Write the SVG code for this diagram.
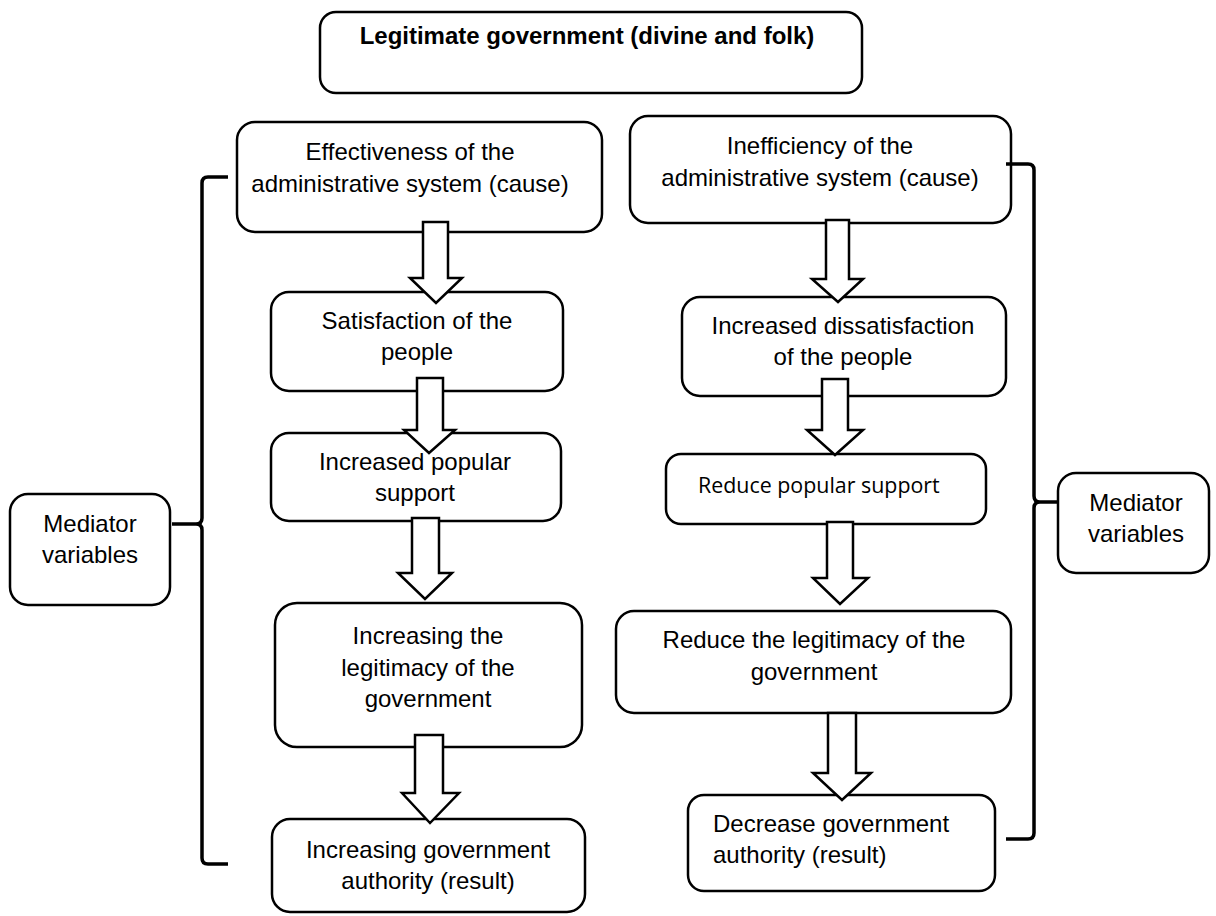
<svg xmlns="http://www.w3.org/2000/svg" width="1216" height="916" viewBox="0 0 1216 916">
<style>
.box{fill:#fff;stroke:#000;stroke-width:2.5}
.t{font-family:"Liberation Sans",Arial,sans-serif;font-size:24px;fill:#000;text-anchor:middle}
.ts{font-family:"Liberation Sans",Arial,sans-serif;font-size:24px;fill:#000;text-anchor:start}
.tb{font-family:"Liberation Sans",Arial,sans-serif;font-size:24px;font-weight:bold;fill:#000;text-anchor:middle}
.tc{font-family:"Open Sans","Noto Sans",sans-serif;font-size:21.4px;fill:#000}
.arr{fill:#fff;stroke:#000;stroke-width:2.5;stroke-linejoin:miter}
.brace{fill:none;stroke:#000;stroke-width:3.5}
</style>
<rect width="1216" height="916" fill="#fff"/>
<g id="top">
<rect class="box" x="320" y="12" width="542" height="81" rx="16"/>
<text class="tb" x="587" y="44">Legitimate government (divine and folk)</text>
</g>
<g id="l1">
<rect class="box" x="237" y="122" width="365" height="110" rx="18"/>
<text class="t" x="410" y="160">Effectiveness of the</text>
<text class="t" x="410" y="192">administrative system (cause)</text>
</g>
<g id="l2">
<rect class="box" x="271" y="292" width="292" height="99" rx="18"/>
<text class="t" x="417" y="329">Satisfaction of the</text>
<text class="t" x="417" y="360">people</text>
</g>
<g id="l3">
<rect class="box" x="271" y="433" width="290" height="88" rx="18"/>
<text class="t" x="415" y="470">Increased popular</text>
<text class="t" x="415" y="501">support</text>
</g>
<g id="l4">
<rect class="box" x="275" y="603" width="307" height="144" rx="22"/>
<text class="t" x="428" y="644">Increasing the</text>
<text class="t" x="428" y="676">legitimacy of the</text>
<text class="t" x="428" y="707">government</text>
</g>
<g id="l5">
<rect class="box" x="272" y="819" width="313" height="93" rx="18"/>
<text class="t" x="428" y="858">Increasing government</text>
<text class="t" x="428" y="889">authority (result)</text>
</g>
<g id="r1">
<rect class="box" x="630" y="116" width="381" height="107" rx="18"/>
<text class="t" x="820" y="154">Inefficiency of the</text>
<text class="t" x="820" y="186">administrative system (cause)</text>
</g>
<g id="r2">
<rect class="box" x="682" y="297" width="324" height="99" rx="18"/>
<text class="t" x="843" y="334">Increased dissatisfaction</text>
<text class="t" x="843" y="365">of the people</text>
</g>
<g id="r3">
<rect class="box" x="666" y="454" width="320" height="70" rx="15"/>
<text class="tc" x="698" y="493">Reduce popular support</text>
</g>
<g id="r4">
<rect class="box" x="616" y="611" width="395" height="102" rx="18"/>
<text class="t" x="814" y="648">Reduce the legitimacy of the</text>
<text class="t" x="814" y="680">government</text>
</g>
<g id="r5">
<rect class="box" x="688" y="795" width="307" height="96" rx="16"/>
<text class="ts" x="713" y="832">Decrease government</text>
<text class="ts" x="713" y="863">authority (result)</text>
</g>
<g id="med-left">
<rect class="box" x="10" y="494" width="160" height="111" rx="18"/>
<text class="t" x="90" y="532">Mediator</text>
<text class="t" x="90" y="563">variables</text>
</g>
<g id="med-right">
<rect class="box" x="1058" y="473" width="151" height="100" rx="18"/>
<text class="t" x="1136" y="511">Mediator</text>
<text class="t" x="1136" y="542">variables</text>
</g>
<g id="connectors">
<polygon class="arr" points="423,222 448,222 448,278 462,278 436,303 410,278 423,278"/>
<polygon class="arr" points="417,378 443,378 443,430 455,430 429,453 404,430 417,430"/>
<polygon class="arr" points="412,518 439,518 439,573 452,573 425,599 398,573 412,573"/>
<polygon class="arr" points="415,735 443,735 443,793 459,793 430,823 402,793 415,793"/>
<polygon class="arr" points="826,220 849,220 849,279 863,279 838,302 812,279 826,279"/>
<polygon class="arr" points="822,379 848,379 848,430 863,430 835,455 807,430 822,430"/>
<polygon class="arr" points="827,522 853,522 853,578 868,578 840,604 813,578 827,578"/>
<polygon class="arr" points="828,713 856,713 856,773 871,773 842,800 813,773 828,773"/>
<path class="brace" d="M228,177 H208 Q202,177 202,183 V518 Q202,524 196,524 H172 M196,524 Q202,524 202,530 V858 Q202,864 208,864 H228"/>
<path class="brace" d="M1006,164 H1028 Q1034,164 1034,170 V496 Q1034,502 1040,502 H1058 M1040,502 Q1034,502 1034,508 V833 Q1034,839 1028,839 H1006"/>
</g>
</svg>
